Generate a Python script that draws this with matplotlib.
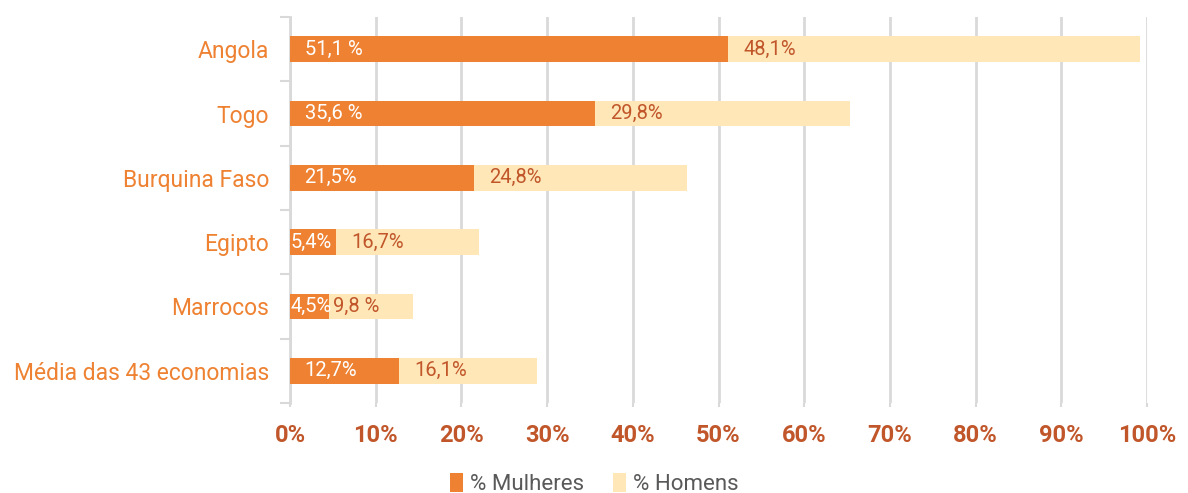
import matplotlib.pyplot as plt
import numpy as np

paises = ["Angola", "Togo", "Burquina Faso", "Egipto", "Marrocos", "Média das 43 economias"]
mulheres = [51.1, 35.6, 21.5, 5.4, 4.5, 12.7]
homens = [48.1, 29.8, 24.8, 16.7, 9.8, 16.1]
rot_mulheres = ["51,1 %", "35,6 %", "21,5%", "5,4%", "4,5%", "12,7%"]
rot_homens = ["48,1%", "29,8%", "24,8%", "16,7%", "9,8 %", "16,1%"]
ticks_x = [0, 10, 20, 30, 40, 50, 60, 70, 80, 90, 100]

cor_m = "#EE8232"
cor_h = "#FFE7B8"
cor_txt = "#EE8232"
cor_eixo = "#C0562A"
cinza = "#D9D9D9"

plt.rcParams['font.family'] = ['Roboto', 'DejaVu Sans']

fig = plt.figure(figsize=(11.88, 4.93), dpi=100)
ax = fig.add_axes([0.2441, 0.1826, 0.9655 - 0.2441, 0.9655 - 0.1826])

y = np.arange(len(paises))
ax.barh(y, mulheres, height=0.4, color=cor_m, label="% Mulheres", zorder=3)
ax.barh(y, homens, left=mulheres, height=0.4, color=cor_h, label="% Homens", zorder=3)

for i in range(len(paises)):
    off_m = 10.5 if mulheres[i] > 8 else 0.3
    ax.annotate(rot_mulheres[i], (0, y[i]), xytext=(off_m, 0), textcoords="offset points",
                ha="left", va="center", color="white", fontsize=14.5, zorder=4)
    off_h = 11 if mulheres[i] > 5 else 3
    ax.annotate(rot_homens[i], (mulheres[i], y[i]), xytext=(off_h, 0), textcoords="offset points",
                ha="left", va="center", color=cor_eixo, fontsize=14.5, zorder=4)

ax.set_xlim(0, 100)
ax.set_ylim(len(paises) - 0.5, -0.5)
ax.set_xticks(ticks_x)
ax.set_xticklabels([f"{t}%" for t in ticks_x], fontsize=17, fontweight="bold", color=cor_eixo)
ax.set_yticks(y)
ax.set_yticklabels(paises, fontsize=16.5, color=cor_txt)
ax.set_yticks(np.arange(-0.5, len(paises), 1), minor=True)
ax.tick_params(axis="y", which="major", length=0, pad=15)
ax.tick_params(axis="y", which="minor", length=7, width=1.5, color=cinza)
ax.tick_params(axis="x", length=3, width=1.5, color=cinza, pad=12)

ax.grid(axis="x", color=cinza, linewidth=2, zorder=0)
for s in ["top", "right", "bottom"]:
    ax.spines[s].set_visible(False)
ax.spines["left"].set_color(cinza)
ax.spines["left"].set_linewidth(2)

leg = fig.legend(loc="lower center", bbox_to_anchor=(0.5, -0.045), ncol=2, frameon=False,
                 fontsize=16, handlelength=0.6, handleheight=0.9, handletextpad=0.3,
                 columnspacing=1.3)
for t in leg.get_texts():
    t.set_color("#595959")

fig.savefig("out.png", dpi=100)
